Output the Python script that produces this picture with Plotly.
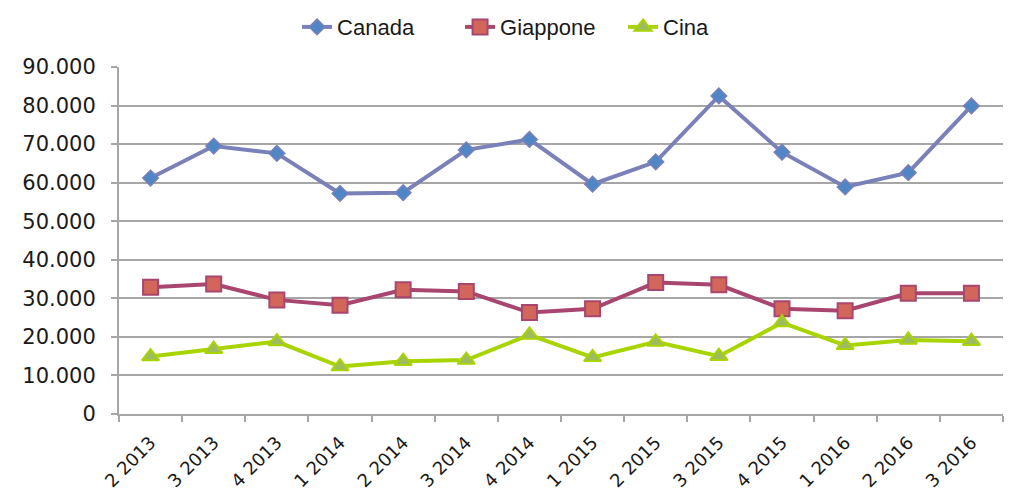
import plotly.graph_objects as go

categories = ["2 2013", "3 2013", "4 2013", "1 2014", "2 2014", "3 2014", "4 2014",
              "1 2015", "2 2015", "3 2015", "4 2015", "1 2016", "2 2016", "3 2016"]
canada = [61200, 69500, 67600, 57200, 57400, 68500, 71200,
          59600, 65400, 82500, 67900, 58900, 62600, 79900]
giappone = [32900, 33700, 29600, 28200, 32200, 31800, 26300,
            27300, 34100, 33500, 27300, 26800, 31300, 31300]
cina = [14900, 16800, 18800, 12300, 13700, 14000, 20500,
        14700, 18700, 15000, 23700, 17800, 19200, 18900]
y_ticks = [0, 10000, 20000, 30000, 40000, 50000, 60000, 70000, 80000, 90000]

fig = go.Figure()
fig.add_trace(go.Scatter(
    x=categories, y=canada, name="Canada", mode="lines+markers",
    line=dict(color="#7A80B8", width=4),
    marker=dict(symbol="diamond", size=12, color="#4F86C6",
                line=dict(color="#7A80B8", width=1.5))))
fig.add_trace(go.Scatter(
    x=categories, y=giappone, name="Giappone", mode="lines+markers",
    line=dict(color="#A8466F", width=4),
    marker=dict(symbol="square", size=15, color="#D2665A",
                line=dict(color="#A8466F", width=2))))
fig.add_trace(go.Scatter(
    x=categories, y=cina, name="Cina", mode="lines+markers",
    line=dict(color="#A8D400", width=4),
    marker=dict(symbol="triangle-up", size=15, color="#9EBB5E",
                line=dict(color="#A8D400", width=2))))

# page body has an 8px margin, so the figure is 8px smaller and offset
fig.update_layout(
    width=1018, height=491,
    paper_bgcolor="white", plot_bgcolor="white",
    margin=dict(l=111, r=23, t=59, b=85, autoexpand=False),
    separators=",.",
    font=dict(family="Liberation Sans, Arial, sans-serif", color="#1a1a1a"),
    legend=dict(orientation="h", x=0.478, y=1.115, xanchor="center", yanchor="middle",
                font=dict(size=22), tracegroupgap=0, entrywidth=118),
    showlegend=True,
)
fig.update_xaxes(
    type="category", showgrid=False, showline=True, linecolor="#A6A6A6", linewidth=2,
    ticks="outside", tickson="boundaries", ticklen=6, tickcolor="#A6A6A6", tickwidth=2,
    tickangle=-45, ticklabelstandoff=9, automargin=False,
    tickfont=dict(size=18, family="DejaVu Sans, sans-serif", color="#1a1a1a"),
    range=[-0.5, len(categories) - 0.5],
)
fig.update_yaxes(
    range=[0, 90000], tickvals=y_ticks, tickformat=",d", automargin=False,
    showgrid=True, gridcolor="#A6A6A6", gridwidth=2,
    showline=True, linecolor="#A6A6A6", linewidth=2,
    ticks="outside", ticklen=6, tickcolor="#A6A6A6", tickwidth=2, ticklabelstandoff=11,
    tickfont=dict(size=21, family="DejaVu Sans, sans-serif", color="#1a1a1a"), zeroline=False,
)

fig.write_html("out.html")
